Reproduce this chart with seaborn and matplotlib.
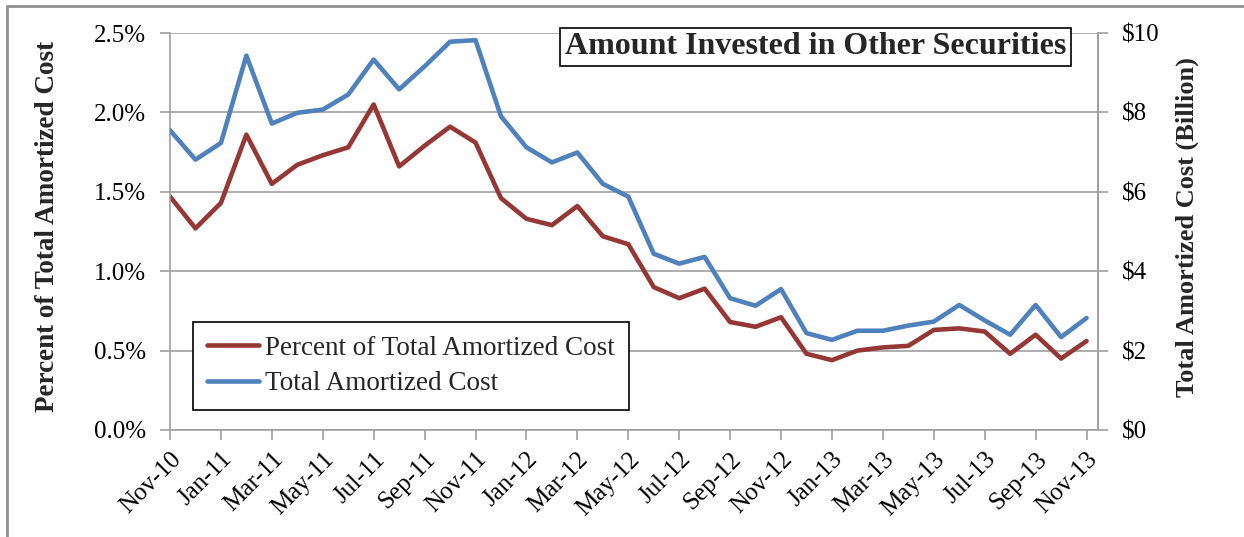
import numpy as np
import pandas as pd
import matplotlib
matplotlib.use("Agg")
import matplotlib.pyplot as plt
from matplotlib.ticker import FuncFormatter, MultipleLocator
from matplotlib.lines import Line2D
import seaborn as sns

months = list(pd.date_range("2010-11-01", periods=37, freq="MS").strftime("%b-%y"))

pct_of_total = [1.47, 1.27, 1.43, 1.86, 1.55, 1.67, 1.73, 1.78, 2.05, 1.66, 1.79, 1.91,
                1.81, 1.46, 1.33, 1.29, 1.41, 1.22, 1.17, 0.90, 0.83, 0.89, 0.68, 0.65,
                0.71, 0.48, 0.44, 0.50, 0.52, 0.53, 0.63, 0.64, 0.62, 0.48, 0.60, 0.45, 0.56]

total_cost = [7.55, 6.81, 7.23, 9.43, 7.72, 7.99, 8.07, 8.45, 9.33, 8.58, 9.16, 9.78,
              9.82, 7.90, 7.12, 6.74, 6.99, 6.20, 5.88, 4.44, 4.19, 4.36, 3.32, 3.13,
              3.55, 2.44, 2.27, 2.50, 2.50, 2.63, 2.73, 3.15, 2.76, 2.40, 3.15, 2.34, 2.82]

label_pct = "Percent of Total Amortized Cost"
label_cost = "Total Amortized Cost"

df = pd.DataFrame({"idx": np.arange(len(months)), "month": months,
                   "pct": pct_of_total, "cost": total_cost})

sns.set_theme(style="white")
plt.rcParams["font.family"] = ["Liberation Serif", "DejaVu Serif"]

RED = "#953735"
BLUE = "#4F81BD"
GRAY = "#a0a0a0"
LW = 3.3

fig = plt.figure(figsize=(12.44, 5.37), dpi=100)
ax = fig.add_axes([170/1244, 1-430/537, (1098-170)/1244, (430-33)/537])
ax2 = ax.twinx()

sns.lineplot(data=df, x="idx", y="pct", ax=ax, color=RED, linewidth=LW, legend=False)
sns.lineplot(data=df, x="idx", y="cost", ax=ax2, color=BLUE, linewidth=LW, legend=False)

ax.set_xlim(0, 36.45)
ax.set_ylim(0, 2.5)
ax2.set_ylim(0, 10)

ax.yaxis.set_major_locator(MultipleLocator(0.5))
ax.yaxis.set_major_formatter(FuncFormatter(lambda v, p: f"{v:.1f}%"))
ax2.yaxis.set_major_locator(MultipleLocator(2))
ax2.yaxis.set_major_formatter(FuncFormatter(lambda v, p: f"\\${v:.0f}"))

ax.set_xticks(range(0, 37, 2))
ax.set_xticklabels(months[::2], rotation=45, ha="right", rotation_mode="anchor")

ax.grid(axis="y", color=GRAY, linewidth=1.2)
ax.grid(axis="x", visible=False)
ax2.grid(False)
ax.set_axisbelow(True)

for a in (ax, ax2):
    for s in a.spines.values():
        s.set_color(GRAY)
        s.set_linewidth(1.2)
    a.spines["top"].set_visible(False)
ax2.spines["left"].set_visible(False)
ax2.spines["bottom"].set_visible(False)

ax.tick_params(axis="x", which="major", direction="out", length=7, width=1.2,
               color=GRAY, bottom=True, labelsize=18, pad=6, labelcolor="black")
ax.tick_params(axis="y", direction="out", length=7, width=1.2, color=GRAY,
               left=True, labelsize=18, pad=10, labelcolor="black")
ax2.tick_params(axis="y", direction="out", length=7, width=1.2, color=GRAY,
                right=True, labelsize=18, pad=10, labelcolor="black")

ax.set_xlabel("")
ax.set_ylabel("Percent of Total Amortized Cost", fontsize=19.5, fontweight="bold")
ax2.set_ylabel("Total Amortized Cost (Billion)", fontsize=19, fontweight="bold")
ax.yaxis.set_label_coords((60-170)/928, 0.512)
ax2.yaxis.set_label_coords((1176-170)/928, 0.51)

ax.text(0.696, 0.965, "Amount Invested in Other Securities", transform=ax.transAxes,
        ha="center", va="center", fontsize=23, fontweight="bold", zorder=10,
        bbox=dict(boxstyle="square,pad=0.15", facecolor="white", edgecolor="black",
                  linewidth=1.2))

handles = [Line2D([0], [0], color=RED, linewidth=LW),
           Line2D([0], [0], color=BLUE, linewidth=LW)]
leg = ax2.legend(handles, [label_pct, label_cost], loc="lower left",
                 bbox_to_anchor=(0.0248, 0.0504), borderaxespad=0, fontsize=19.5,
                 frameon=True, fancybox=False, edgecolor="black", framealpha=1,
                 handlelength=1.95, handletextpad=0.22, borderpad=0.5,
                 labelspacing=0.4)
leg.get_frame().set_linewidth(1.2)
leg.set_zorder(20)

fig.add_artist(Line2D([7.5/1244, 7.5/1244], [0, 1-6/537], color="#909090", linewidth=2,
                      transform=fig.transFigure))
fig.add_artist(Line2D([7.5/1244, 1], [1-6/537, 1-6/537], color="#909090", linewidth=2,
                      transform=fig.transFigure))

fig.savefig("out.png", dpi=100)
